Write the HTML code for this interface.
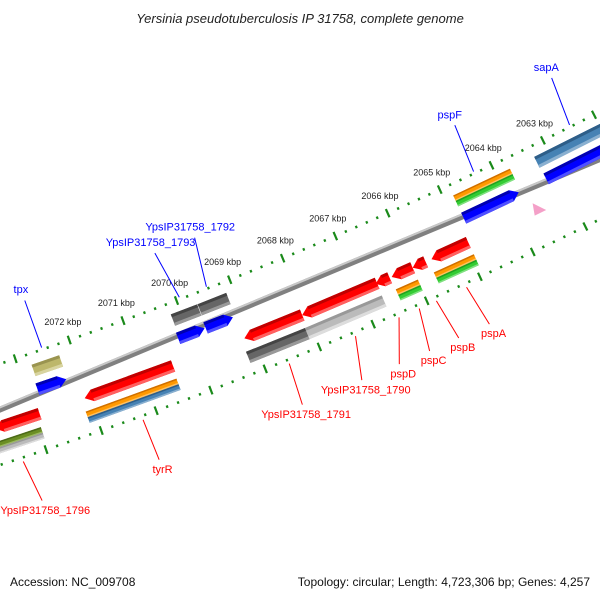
<!DOCTYPE html>
<html><head><meta charset="utf-8"><style>
html,body{margin:0;padding:0;background:#fff;}
svg{display:block;font-family:"Liberation Sans","DejaVu Sans",sans-serif;}
</style></head><body>
<svg id="chart" width="600" height="600" viewBox="0 0 600 600" xmlns="http://www.w3.org/2000/svg">
<rect width="600" height="600" fill="#fff"/>
<text x="300" y="23" text-anchor="middle" font-size="13" font-style="italic" fill="#222">Yersinia pseudotuberculosis IP 31758, complete genome</text>
<g id="ticks"></g>
<g id="feats"></g>
<g id="labels"></g>
<text x="10" y="586" font-size="12" fill="#111">Accession: NC_009708</text>
<text x="590" y="586" text-anchor="end" font-size="12" fill="#111">Topology: circular; Length: 4,723,306 bp; Genes: 4,257</text>
</svg>
<script>
// ---- data ----
const featStart = [2072255,2070179,2069679,2063736,2061500, 2072275,2070208,2069698,2063774,2061500, 2072906,2070460,2068064,2066660,2066423,2065989,2065743,2064934, 2072962,2072962,2070482,2070482,2068104,2066670,2065991,2065991,2064934,2064934];
const featEnd   = [2072764,2069689,2069142,2064830,2063264, 2072804,2069717,2069189,2064830,2063245, 2073716,2072083,2069140,2068064,2066687,2066385,2065989,2065632, 2073858,2073858,2072143,2072143,2069198,2068104,2066406,2066406,2065689,2065689];
const featRing  = ["U","U","U","UO","U", "B","B","B","B","B", "R","R","R","R","R","R","R","R", "LO","LI","LO","LI","L","L","LO","LI","LO","LI"];
const featType  = ["khaki","gray","gray","orange","steel", "blue","blue","blue","blue","blue", "red","red","red","red","red","red","red","red", "olive","lgray","orange","steel","gray","lgray","orange","green","orange","green"];
const featArrow = [0,0,0,0,0, -1,-1,-1,-1,-1, 1,1,1,1,1,1,1,1, 0,0,0,0,0,0,0,0,0,0];
featStart.push(2063736); featEnd.push(2064830); featRing.push("UI"); featType.push("green"); featArrow.push(0);

const labelText  = ["tpx","YpsIP31758_1793","YpsIP31758_1792","pspF","sapA","YpsIP31758_1796","tyrR","YpsIP31758_1791","YpsIP31758_1790","pspD","pspC","pspB","pspA"];
const labelSide  = ["U","U","U","U","U","L","L","L","L","L","L","L","L"];
const labelFrom  = [2072500,2069934,2069425,2064330,2062462,2073434,2071264,2068585,2067358,2066547,2066170,2065849,2065283];
const labelTo    = [2072509,2070057,2069302,2064280,2062372,2073340,2071240,2068640,2067550,2066860,2066300,2065760,2065190];
const tickKbp    = [2063,2064,2065,2066,2067,2068,2069,2070,2071,2072];
const tickLabels = ["2063 kbp","2064 kbp","2065 kbp","2066 kbp","2067 kbp","2068 kbp","2069 kbp","2070 kbp","2071 kbp","2072 kbp"];

// ---- geometry ----
const CX=-1382, CY=-3765, R=4402;
function P(bp,d){const a=(70.53+(bp-2072000)/1000*0.752)*Math.PI/180;const r=R+d;return [CX+r*Math.cos(a),CY+r*Math.sin(a)];}
function pts(arr){return arr.map(p=>p[0].toFixed(1)+","+p[1].toFixed(1)).join(" ");}
const NS="http://www.w3.org/2000/svg";
function mk(tag,attrs,parent){const e=document.createElementNS(NS,tag);for(const k in attrs)e.setAttribute(k,attrs[k]);parent.appendChild(e);return e;}

const ringD={U:[-37,-25],UO:[-37,-31],UI:[-31,-25],B:[-18,-6],R:[6,18],L:[25,37],LO:[25,31],LI:[31,37]};
const colors={red:["#c00000","#ff0000","#ff6060"],blue:["#0000b0","#0000ff","#5050ff"],orange:["#d07000","#ff9900","#ffc060"],green:["#20a020","#33cc33","#80e080"],
 steel:["#2e5e88","#4682b4","#8ab0d0"],gray:["#444","#666","#999"],lgray:["#999","#bbb","#ddd"],khaki:["#9a9450","#bdb76b","#d8d4a0"],olive:["#4c6a18","#6b8e23","#9ab860"]};

const tg=document.getElementById('ticks'), fg=document.getElementById('feats'), lg=document.getElementById('labels');

// backbone
{const a=2061000,b=2074500;
const bb=mk('polygon',{points:pts([P(a,-3),P(b,-3),P(b,3),P(a,3)]),fill:'#808080'},fg);


const hl=mk('polygon',{points:pts([P(a,-3),P(b,-3),P(b,-1),P(a,-1)]),fill:'#c8c8c8'},fg);

}

// ticks
for(let bp=2061800;bp<=2074400;bp+=200){
  const major=(bp%1000===0);
  [-48,48].forEach(d=>{
    const h=major?4.5:1.3;
    const a=P(bp,d-h),b=P(bp,d+h);
    const l=mk('line',{x1:a[0],y1:a[1],x2:b[0],y2:b[1],stroke:'#1a8a1a','stroke-width':2.2},tg);
    
    
  });
}
tickKbp.forEach((k,i)=>{
  const p=P(k*1000,-67);
  const t=mk('text',{x:p[0],y:p[1]+3,'text-anchor':'middle','font-size':'9',fill:'#222'},tg);
  t.textContent=tickLabels[i];
  
  
});

// features
const HEAD=140;
featStart.forEach((s,i)=>{
  const e=featEnd[i], lo=Math.min(s,e), hi=Math.max(s,e);
  const [d0,d1]=ringD[featRing[i]], dm=(d0+d1)/2, c=colors[featType[i]];
  const g=mk('g',{},fg);
  
  
  let shape, bLo=lo, bHi=hi;
  if(featArrow[i]===-1){bLo=lo+HEAD;shape=[P(hi,d0),P(bLo,d0),P(lo,dm),P(bLo,d1),P(hi,d1)];}
  else if(featArrow[i]===1){bHi=hi-HEAD;shape=[P(lo,d0),P(bHi,d0),P(hi,dm),P(bHi,d1),P(lo,d1)];}
  else shape=[P(lo,d0),P(hi,d0),P(hi,d1),P(lo,d1)];
  mk('polygon',{points:pts(shape),fill:c[1]},g);
  const th=(d1-d0)/4;
  mk('polygon',{points:pts([P(bLo,d0),P(bHi,d0),P(bHi,d0+th),P(bLo,d0+th)]),fill:c[0]},g);
  mk('polygon',{points:pts([P(bLo,d1-th),P(bHi,d1-th),P(bHi,d1),P(bLo,d1)]),fill:c[2]},g);
});

// pink marker
{const m=mk('polygon',{points:pts([P(2063640,4),P(2063700,16),P(2063480,16)]),fill:'#f4a0c8'},fg);

}

// labels
labelText.forEach((txt,i)=>{
  const up=labelSide[i]==="U";
  const a=P(labelFrom[i],up?-50:52), b=P(labelTo[i],up?-100:95), t=P(labelTo[i],up?-112:105);
  const col=up?'#0000ff':'#ff0000';
  const l=mk('line',{x1:a[0],y1:a[1],x2:b[0],y2:b[1],stroke:col,'stroke-width':1},lg);
  
  
  const tx=mk('text',{x:t[0],y:t[1]+4,'text-anchor':'middle','font-size':'11',fill:col},lg);
  tx.textContent=txt;
  
  
});
</script>
</body></html>
